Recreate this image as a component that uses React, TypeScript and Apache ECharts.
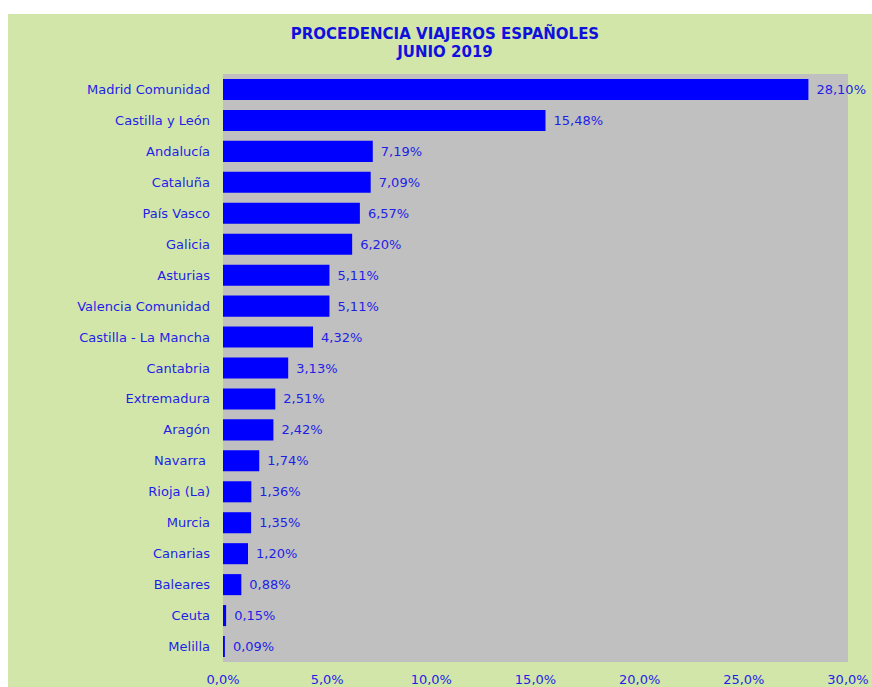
import React, { useEffect, useRef } from "react";
import * as echarts from "echarts";

const categories = [
  "Madrid Comunidad",
  "Castilla y León",
  "Andalucía",
  "Cataluña",
  "País Vasco",
  "Galicia",
  "Asturias",
  "Valencia Comunidad",
  "Castilla - La Mancha",
  "Cantabria",
  "Extremadura",
  "Aragón",
  "Navarra ",
  "Rioja (La)",
  "Murcia",
  "Canarias",
  "Baleares",
  "Ceuta",
  "Melilla",
];

const values = [28.1, 15.48, 7.19, 7.09, 6.57, 6.2, 5.11, 5.11, 4.32, 3.13, 2.51, 2.42, 1.74, 1.36, 1.35, 1.2, 0.88, 0.15, 0.09];

const titleLines = ["PROCEDENCIA VIAJEROS ESPAÑOLES", "JUNIO 2019"];

const FONT = "DejaVu Sans, Verdana, sans-serif";
const TEXT_BLUE = "#1e1ee6";

export default function App() {
  const ref = useRef<HTMLDivElement>(null);
  useEffect(() => {
    if (!ref.current) return;
    const chart = echarts.init(ref.current, undefined, { renderer: "svg" });
    chart.setOption({
      animation: false,
      backgroundColor: "#d2e6aa",
      title: {
        text: titleLines.join("\n"),
        left: 432,
        top: 6,
        textAlign: "center",
        textStyle: {
          color: "#1010dd",
          fontFamily: FONT,
          fontSize: 15,
          fontWeight: "bold",
          lineHeight: 18,
        },
      },
      grid: {
        left: 215,
        right: 24,
        top: 60,
        bottom: 25,
        show: true,
        backgroundColor: "#c0c0c0",
        borderWidth: 0,
      },
      xAxis: {
        type: "value",
        min: 0,
        max: 30,
        interval: 5,
        axisLine: { show: false },
        axisTick: { show: false },
        splitLine: { show: false },
        axisLabel: {
          color: TEXT_BLUE,
          fontFamily: FONT,
          fontSize: 13,
          margin: 11,
          formatter: (v: number) => v.toFixed(1).replace(".", ",") + "%",
        },
      },
      yAxis: {
        type: "category",
        data: categories,
        inverse: true,
        axisLine: { show: false },
        axisTick: { show: false },
        splitLine: { show: false },
        axisLabel: {
          color: TEXT_BLUE,
          fontFamily: FONT,
          fontSize: 13,
          margin: 13,
        },
      },
      series: [
        {
          type: "bar",
          data: values,
          barCategoryGap: "32%",
          itemStyle: { color: "#0000ff" },
          label: {
            show: true,
            position: "right",
            distance: 8,
            color: TEXT_BLUE,
            fontFamily: FONT,
            fontSize: 13,
            formatter: (p: any) => p.value.toFixed(2).replace(".", ",") + "%",
          },
        },
      ],
    });
    return () => chart.dispose();
  }, []);
  return (
    <div
      ref={ref}
      style={{ position: "fixed", left: 8, top: 14, width: 864, height: 673 }}
    />
  );
}
